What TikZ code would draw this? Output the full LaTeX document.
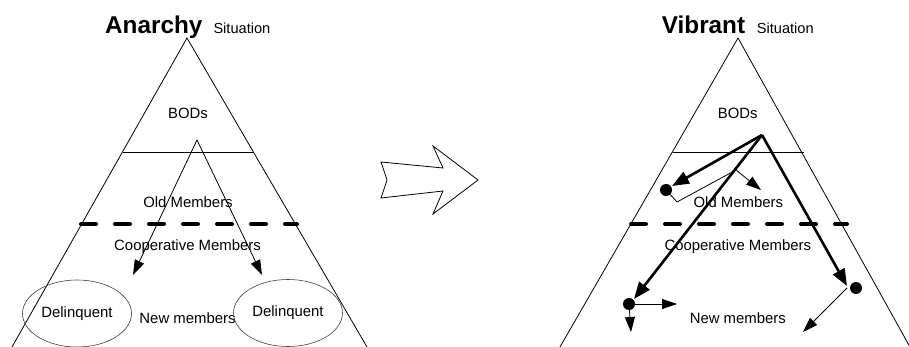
\documentclass[tikz,border=0pt]{standalone}
\usepackage{fontspec}
\setmainfont{Liberation Sans}
\usetikzlibrary{arrows.meta,shapes.geometric}
\begin{document}
\begin{tikzpicture}[x=1pt,y=-1pt,
  lbl/.style={inner sep=0pt, anchor=base, font=\fontsize{14.9}{16}\selectfont},
  ttl/.style={inner sep=0pt, anchor=base west, font=\fontsize{24.3}{28}\selectfont\bfseries},
  sit/.style={inner sep=0pt, anchor=base west, font=\fontsize{14.6}{16}\selectfont},
  edgeline/.style={line width=0.8pt},
  sepline/.style={line width=4pt, dash pattern=on 15pt off 19pt, line cap=round},
  thinarr/.style={line width=0.8pt, -{Triangle[length=15pt,width=10pt]}},
  thickarr/.style={line width=2.6pt, -{Triangle[length=17pt,width=13pt]}},
  dotc/.style={circle, fill, inner sep=0pt, minimum size=12pt},
  deli/.style={ellipse, draw=black!75, line width=0.6pt, inner sep=0pt,
    minimum width=109pt, minimum height=67pt, font=\fontsize{14.9}{16}\selectfont}
]
\useasboundingbox (0,0) rectangle (909,347);

% ---------- left pyramid ----------
\coordinate (LA) at (187,38);
\coordinate (LL) at (12,347);
\coordinate (LR) at (367,347);
\draw[edgeline] (LL) -- (LA) -- (LR);
\coordinate (LH1) at (123,152);
\coordinate (LH2) at (253,152);
\draw[edgeline] (LH1) -- (LH2);
\coordinate (LD1) at (81,224);
\coordinate (LD2) at (297,224);
\draw[sepline] (LD1) -- (LD2);

\node[ttl] (anarchy) at (105,33.5) {Anarchy};
\node[sit] (sitL) at (213.3,34) {Situation};
\node[lbl] (bodL) at (188,118.3) {BODs};
\node[lbl] (oldL) at (188,207.5) {Old Members};
\node[lbl] (coopL) at (187.5,250.7) {Cooperative Members};
\node[lbl] (newL) at (187.5,323.3) {New members};
\node[deli] (delL) at (77,313.5) {Delinquent};
\node[deli] (delR) at (288,313) {Delinquent};

\coordinate (LV) at (197,140);
\coordinate (LT1) at (133,275);
\coordinate (LT2) at (262,275);
\draw[thinarr] (LV) -- (LT1);
\draw[thinarr] (LV) -- (LT2);

% ---------- block arrow ----------
\coordinate (B1) at (381,162);
\coordinate (B2) at (443,168);
\coordinate (B3) at (433,146);
\coordinate (B4) at (478,180);
\coordinate (B5) at (433,214);
\coordinate (B6) at (443,191);
\coordinate (B7) at (381,198);
\coordinate (B8) at (387,180);
\draw[edgeline, line join=miter] (B1) -- (B2) -- (B3) -- (B4) -- (B5) -- (B6) -- (B7) -- (B8) -- cycle;

% ---------- right pyramid ----------
\coordinate (RA) at (738,38);
\coordinate (RL) at (560,347);
\coordinate (RR) at (910,347);
\draw[edgeline] (RL) -- (RA) -- (RR);
\coordinate (RH1) at (673,152);
\coordinate (RH2) at (804,152);
\draw[edgeline] (RH1) -- (RH2);
\coordinate (RD1) at (631,224);
\coordinate (RD2) at (847,224);
\draw[sepline] (RD1) -- (RD2);

\node[ttl] (vibrant) at (661.7,33.5) {Vibrant};
\node[sit] (sitR) at (756.7,34) {Situation};
\node[lbl] (bodR) at (737.7,118.3) {BODs};
\node[lbl] (oldR) at (738.3,207.5) {Old Members};
\node[lbl] (coopR) at (737.8,250.7) {Cooperative Members};
\node[lbl] (newR) at (737.8,323.3) {New members};

\coordinate (RO) at (762,135);
\node[dotc] (D1) at (666,190) {};
\node[dotc] (D2) at (629,304) {};
\node[dotc] (D3) at (856,288) {};
\coordinate (T1) at (672,186);
\coordinate (T2) at (634,299);
\coordinate (T3) at (847,286);
\draw[thickarr] (RO) -- (T1);
\draw[thickarr] (RO) -- (T2);
\draw[thickarr] (RO) -- (T3);

\coordinate (P1) at (677,202);
\coordinate (P2) at (736,170);
\coordinate (P3) at (761,190);
\draw[edgeline] (D1.center) -- (P1) -- (P2);
\draw[thinarr] (P2) -- (P3);

\coordinate (Q1) at (677,304);
\coordinate (Q2) at (631,332);
\draw[thinarr] (D2.center) -- (Q1);
\draw[thinarr] (D2.center) -- (Q2);

\coordinate (S1) at (847,288);
\coordinate (S2) at (803,332);
\draw[thinarr] (S1) -- (S2);
\end{tikzpicture}
\end{document}
